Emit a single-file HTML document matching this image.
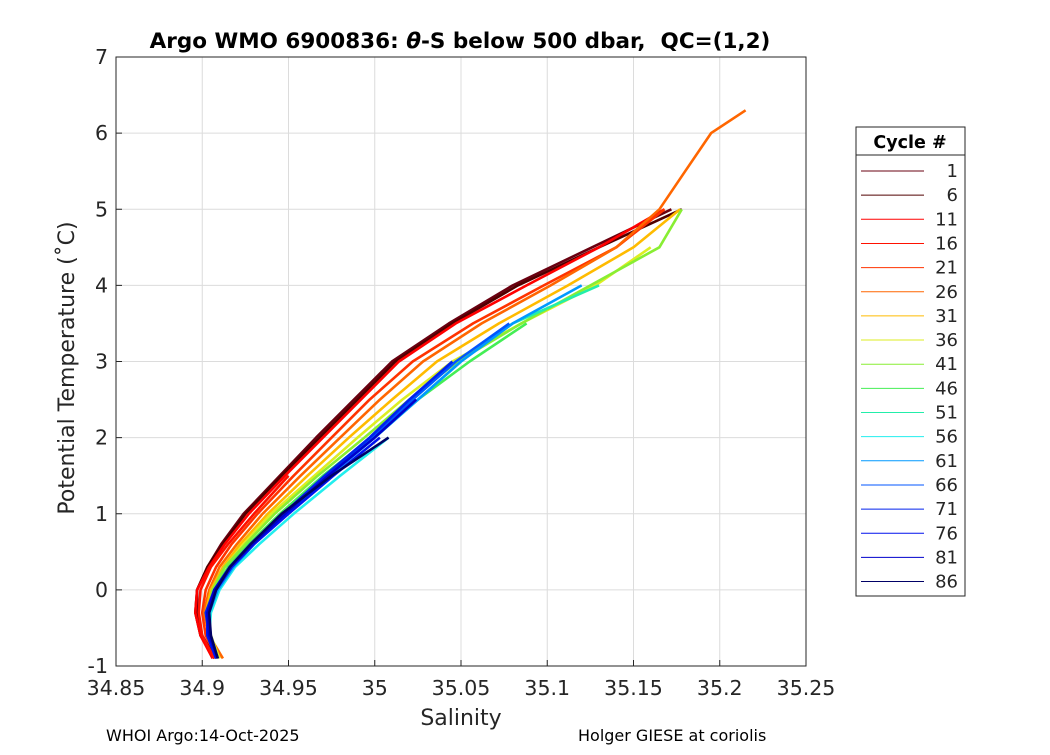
<!DOCTYPE html>
<html><head><meta charset="utf-8"><style>
body{margin:0;background:#fff;font-family:"Liberation Sans","DejaVu Sans",sans-serif}
</style></head><body>
<svg id="chart" width="1050" height="750" xmlns="http://www.w3.org/2000/svg" font-family="DejaVu Sans, Liberation Sans, sans-serif">
<rect width="1050" height="750" fill="#fff"/>
<g id="grid"></g>
<g id="lines"></g>
<rect x="116" y="57" width="690" height="609" fill="none" stroke="#262626" stroke-width="1"/>
<g id="ticks"></g>
<text x="460" y="48" font-size="21.5" font-weight="bold" text-anchor="middle" xml:space="preserve">Argo WMO 6900836: <tspan font-style="italic">θ</tspan>-S below 500 dbar,  QC=(1,2)</text>
<text x="461" y="725" font-size="22" text-anchor="middle" fill="#262626">Salinity</text>
<text transform="translate(74,368) rotate(-90)" font-size="22" text-anchor="middle" fill="#262626">Potential Temperature (˚C)</text>
<text x="106" y="741" font-size="16">WHOI Argo:14-Oct-2025</text>
<text x="578" y="741" font-size="16">Holger GIESE at coriolis</text>
<g id="legend">
<rect x="856" y="127" width="109" height="469" fill="#fff" stroke="#262626"/>
<line x1="856" y1="155" x2="965" y2="155" stroke="#262626"/>
<text x="910" y="148" font-size="17.5" font-weight="bold" text-anchor="middle">Cycle #</text>
</g>
</svg>
<script>
const levels=[-0.9,-0.6,-0.3,0,0.3,0.6,1,1.5,2,2.5,3,3.5,4,4.5,5,5.5,6,6.3];
const cycles=[1,6,11,16,21,26,31,36,41,46,51,56,61,66,71,76,81,86];
const colors=["#6a0010","#500000","#ff0000","#ff1100","#ff3300","#ff6600","#ffbb00","#ddee22","#88ee33","#44ee55","#22eeaa","#22eeee","#0099ff","#0055ff","#0022ee","#0011ee","#0000cc","#000066"];
const s1=[34.908,34.900,34.897,34.897,34.903,34.911,34.924,34.945,34.966,34.988,35.010,35.043,35.080,35.126,35.172];
const s6=[34.907,34.899,34.896,34.897,34.903,34.912,34.925,34.946,34.968,34.990,35.012,35.045,35.083,35.13,35.178];
const s11=[34.906,34.899,34.896,34.897,34.904,34.913,34.927,34.948,34.970,34.992,35.014,35.047,35.088,35.13,35.168];
const s16=[34.907,34.900,34.898,34.899,34.905,34.915,34.930,34.950];
const s21=[34.909,34.902,34.900,34.902,34.908,34.917,34.932,34.953,34.975,34.997,35.022,35.057,35.098,35.140,35.168];
const s26=[34.912,34.904,34.901,34.904,34.910,34.920,34.935,34.957,34.980,35.003,35.028,35.062,35.102,35.140,35.165,35.180,35.195,35.215];
const s31=[34.910,34.904,34.902,34.905,34.912,34.922,34.938,34.961,34.985,35.010,35.036,35.072,35.112,35.150,35.177];
const s36=[34.910,34.905,34.903,34.906,34.913,34.924,34.940,34.965,34.990,35.016,35.045,35.085,35.128,35.160];
const s41=[34.909,34.904,34.903,34.906,34.913,34.925,34.942,34.967,34.994,35.020,35.048,35.085,35.125,35.165,35.178];
const s46=[34.909,34.904,34.903,34.907,34.915,34.927,34.945,34.970,34.998,35.025,35.055,35.088];
const s51=[34.909,34.904,34.904,34.908,34.916,34.929,34.948,34.973,35.000,35.025,35.050,35.080,35.130];
const s56=[34.908,34.904,34.905,34.910,34.919,34.933,34.953,34.980,35.008];
const s61=[34.908,34.904,34.904,34.909,34.918,34.930,34.949,34.974,35.000,35.025,35.050,35.080,35.120];
const s66=[34.908,34.903,34.903,34.908,34.917,34.929,34.948,34.972,34.998,35.022,35.047,35.078];
const s71=[34.909,34.904,34.902,34.907,34.916,34.928,34.947,34.971,34.997,35.020,35.045];
const s76=[34.908,34.903,34.903,34.908,34.917,34.930,34.950,34.976,35.003];
const s81=[34.909,34.904,34.903,34.907,34.916,34.929,34.948,34.973,35.000,35.024];
const s86=[34.909,34.905,34.904,34.908,34.916,34.928,34.946,34.975,35.008];
const salinity=[s1,s6,s11,s16,s21,s26,s31,s36,s41,s46,s51,s56,s61,s66,s71,s76,s81,s86];
const xTicks=[34.85,34.9,34.95,35,35.05,35.1,35.15,35.2,35.25];
const yTicks=[-1,0,1,2,3,4,5,6,7];
const xMin=34.85,xMax=35.25,yMin=-1,yMax=7;
const L=116,R=806,T=57,B=666;
const X=s=>L+(s-xMin)/(xMax-xMin)*(R-L);
const Y=t=>B-(t-yMin)/(yMax-yMin)*(B-T);
const NS="http://www.w3.org/2000/svg";
function mk(tag,attrs,parent){const e=document.createElementNS(NS,tag);for(const k in attrs)e.setAttribute(k,attrs[k]);parent.appendChild(e);return e;}
const grid=document.getElementById('grid'),ticks=document.getElementById('ticks'),lines=document.getElementById('lines'),legend=document.getElementById('legend');
xTicks.forEach(v=>{const x=X(v);
 const g=mk('line',{x1:x,x2:x,y1:T,y2:B,stroke:'#dcdcdc'},grid);
 
 
 mk('line',{x1:x,x2:x,y1:B,y2:B-6,stroke:'#262626'},ticks);
 const t=mk('text',{x:x,y:B+29,'font-size':20.5,'text-anchor':'middle',fill:'#262626'},ticks);
 
 
 t.textContent=String(v);});
yTicks.forEach(v=>{const y=Y(v);
 const g=mk('line',{x1:L,x2:R,y1:y,y2:y,stroke:'#dcdcdc'},grid);
 
 
 mk('line',{x1:L,x2:L+6,y1:y,y2:y,stroke:'#262626'},ticks);
 const t=mk('text',{x:L-8,y:y+7,'font-size':20.5,'text-anchor':'end',fill:'#262626'},ticks);
 
 
 t.textContent=String(v);});
salinity.forEach((arr,i)=>{
 const pts=arr.map((s,j)=>X(s).toFixed(1)+','+Y(levels[j]).toFixed(1)).join(' ');
 const p=mk('polyline',{points:pts,fill:'none',stroke:colors[i],'stroke-width':2.6,'stroke-linejoin':'round'},lines);
 
 
 const ly=171+i*24.15;
 const ll=mk('line',{x1:861,x2:924,y1:ly,y2:ly,stroke:colors[i],'stroke-width':1},legend);
 
 
 const lt=mk('text',{x:958,y:ly+6,'font-size':18,'text-anchor':'end',fill:'#262626'},legend);
 
 
 lt.textContent=String(cycles[i]);
});
</script>
</body></html>
